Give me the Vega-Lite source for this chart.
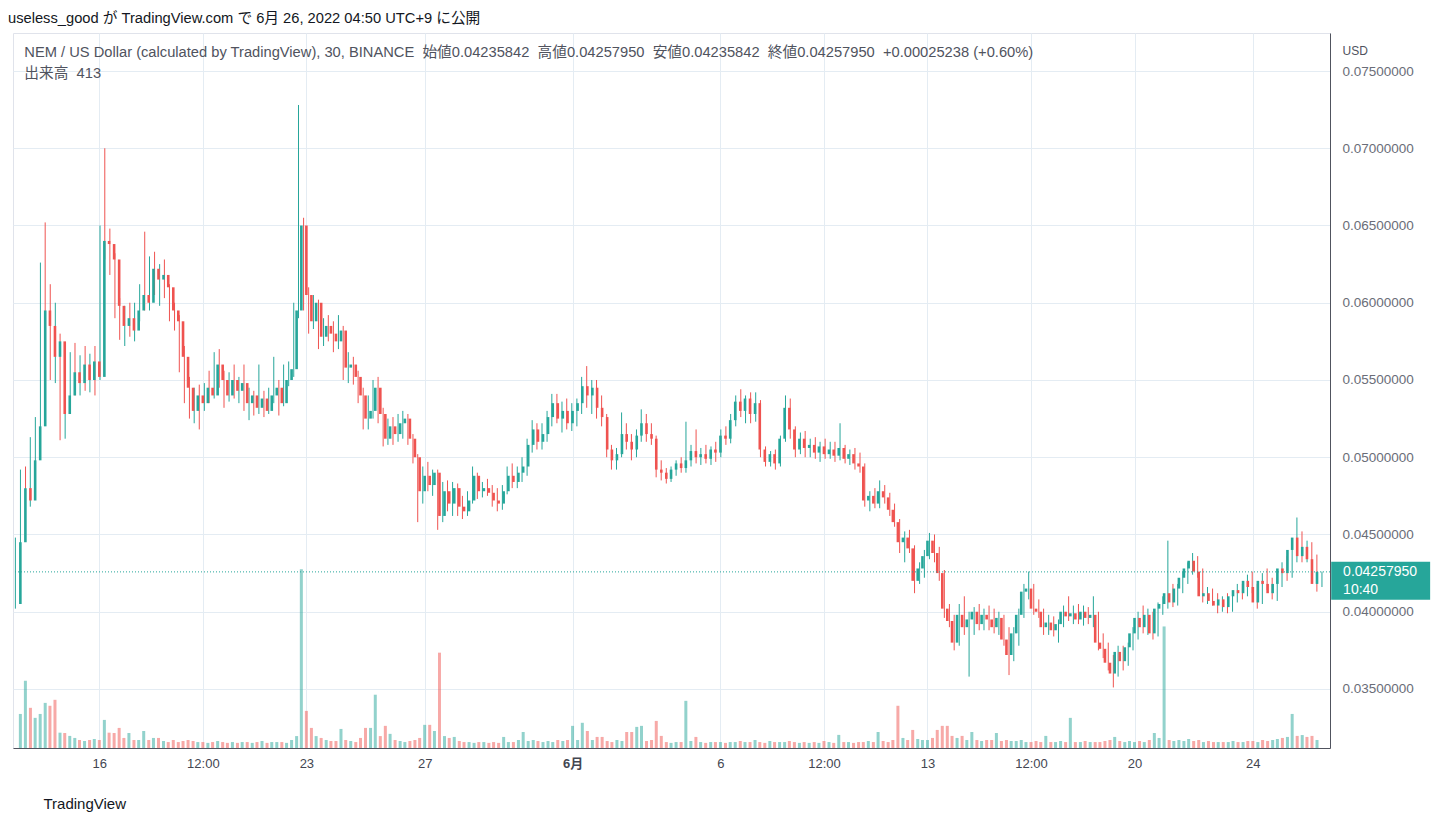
{
"$schema": "https://vega.github.io/schema/vega-lite/v6.json",
"width": 1317, "height": 715,
"autosize": {"type": "none"},
"padding": {"left": 13, "top": 33, "right": 115, "bottom": 78},
"background": "#ffffff",
"config": {
  "font": "Liberation Sans, Noto Sans CJK JP, sans-serif",
  "view": {"stroke": "#e0e3eb", "strokeWidth": 1},
  "axis": {"gridColor": "#e4ecf3", "gridWidth": 1, "ticks": false, "domainColor": "#50535e", "domainWidth": 1, "labelFont": "Liberation Sans", "titleFont": "Liberation Sans"}
},
"title": {
  "text": "useless_good が TradingView.com で 6月 26, 2022 04:50 UTC+9 に公開",
  "subtitle": ["\u200b\u00a0\u00a0\u00a0\u00a0NEM / US Dollar (calculated by TradingView), 30, BINANCE\u00a0\u00a0始値0.04235842\u00a0\u00a0高値0.04257950\u00a0\u00a0安値0.04235842\u00a0\u00a0終値0.04257950\u00a0\u00a0+0.00025238 (+0.60%)", "\u200b\u00a0\u00a0\u00a0\u00a0出来高\u00a0\u00a0413"],
  "anchor": "start", "frame": "group", "orient": "top", "dx": -5, "offset": -48,
  "font": "Liberation Sans, Noto Sans CJK JP, sans-serif",
  "fontSize": 14.7, "fontWeight": "normal", "color": "#131722",
  "subtitleFont": "Liberation Sans, Noto Sans CJK JP, sans-serif",
  "subtitleFontSize": 14.7, "subtitleColor": "#50535e", "subtitlePadding": 20, "subtitleLineHeight": 21
},
"datasets": {"k": [
{"t":13.33,"o":0.0405,"h":0.0448,"l":0.0402,"c":0.0445,"v":2000},
{"t":13.5,"o":0.0445,"h":0.0492,"l":0.0440,"c":0.0480,"v":3950},
{"t":13.67,"o":0.0480,"h":0.0494,"l":0.0466,"c":0.0472,"v":2360},
{"t":13.83,"o":0.0472,"h":0.0513,"l":0.0468,"c":0.0498,"v":1770},
{"t":14,"o":0.0498,"h":0.0526,"l":0.0490,"c":0.0520,"v":2000},
{"t":14.17,"o":0.0520,"h":0.0626,"l":0.0515,"c":0.0595,"v":2650},
{"t":14.33,"o":0.0595,"h":0.0652,"l":0.0560,"c":0.0585,"v":2480},
{"t":14.5,"o":0.0585,"h":0.0612,"l":0.0550,"c":0.0565,"v":2830},
{"t":14.67,"o":0.0565,"h":0.0600,"l":0.0548,"c":0.0575,"v":900},
{"t":14.83,"o":0.0575,"h":0.0580,"l":0.0511,"c":0.0528,"v":880},
{"t":15,"o":0.0528,"h":0.0545,"l":0.0512,"c":0.0540,"v":710},
{"t":15.17,"o":0.0540,"h":0.0568,"l":0.0530,"c":0.0555,"v":590},
{"t":15.33,"o":0.0555,"h":0.0574,"l":0.0540,"c":0.0548,"v":470},
{"t":15.5,"o":0.0548,"h":0.0566,"l":0.0540,"c":0.0560,"v":410},
{"t":15.67,"o":0.0560,"h":0.0572,"l":0.0543,"c":0.0550,"v":470},
{"t":15.83,"o":0.0550,"h":0.0567,"l":0.0542,"c":0.0562,"v":530},
{"t":16,"o":0.0562,"h":0.0572,"l":0.0540,"c":0.0552,"v":470},
{"t":16.17,"o":0.0552,"h":0.0650,"l":0.0550,"c":0.0640,"v":1650},
{"t":16.33,"o":0.0640,"h":0.0700,"l":0.0628,"c":0.0638,"v":900},
{"t":16.5,"o":0.0638,"h":0.0648,"l":0.0618,"c":0.0628,"v":880},
{"t":16.67,"o":0.0628,"h":0.0632,"l":0.0590,"c":0.0598,"v":1180},
{"t":16.83,"o":0.0598,"h":0.0603,"l":0.0576,"c":0.0585,"v":590},
{"t":17,"o":0.0585,"h":0.0598,"l":0.0572,"c":0.0590,"v":880},
{"t":17.17,"o":0.0590,"h":0.0600,"l":0.0578,"c":0.0582,"v":470},
{"t":17.33,"o":0.0582,"h":0.0600,"l":0.0575,"c":0.0595,"v":470},
{"t":17.5,"o":0.0595,"h":0.0612,"l":0.0588,"c":0.0605,"v":1000},
{"t":17.67,"o":0.0605,"h":0.0646,"l":0.0595,"c":0.0600,"v":470},
{"t":17.83,"o":0.0600,"h":0.0630,"l":0.0595,"c":0.0622,"v":590},
{"t":18,"o":0.0622,"h":0.0633,"l":0.0605,"c":0.0615,"v":590},
{"t":18.17,"o":0.0615,"h":0.0625,"l":0.0598,"c":0.0618,"v":410},
{"t":18.33,"o":0.0618,"h":0.0628,"l":0.0603,"c":0.0610,"v":350},
{"t":18.5,"o":0.0610,"h":0.0612,"l":0.0588,"c":0.0595,"v":470},
{"t":18.67,"o":0.0595,"h":0.0600,"l":0.0582,"c":0.0588,"v":350},
{"t":18.83,"o":0.0588,"h":0.0592,"l":0.0555,"c":0.0565,"v":410},
{"t":19,"o":0.0565,"h":0.0572,"l":0.0535,"c":0.0545,"v":470},
{"t":19.17,"o":0.0545,"h":0.0552,"l":0.0525,"c":0.0530,"v":410},
{"t":19.33,"o":0.0530,"h":0.0545,"l":0.0522,"c":0.0540,"v":350},
{"t":19.5,"o":0.0540,"h":0.0547,"l":0.0518,"c":0.0535,"v":350},
{"t":19.67,"o":0.0535,"h":0.0548,"l":0.0530,"c":0.0545,"v":300},
{"t":19.83,"o":0.0545,"h":0.0556,"l":0.0535,"c":0.0540,"v":350},
{"t":20,"o":0.0540,"h":0.0568,"l":0.0538,"c":0.0560,"v":410},
{"t":20.17,"o":0.0560,"h":0.0570,"l":0.0545,"c":0.0550,"v":350},
{"t":20.33,"o":0.0550,"h":0.0556,"l":0.0532,"c":0.0540,"v":300},
{"t":20.5,"o":0.0540,"h":0.0555,"l":0.0536,"c":0.0550,"v":350},
{"t":20.67,"o":0.0550,"h":0.0560,"l":0.0538,"c":0.0543,"v":300},
{"t":20.83,"o":0.0543,"h":0.0552,"l":0.0535,"c":0.0548,"v":350},
{"t":21,"o":0.0548,"h":0.0560,"l":0.0530,"c":0.0535,"v":350},
{"t":21.17,"o":0.0535,"h":0.0545,"l":0.0524,"c":0.0540,"v":300},
{"t":21.33,"o":0.0540,"h":0.0543,"l":0.0527,"c":0.0532,"v":350},
{"t":21.5,"o":0.0532,"h":0.0560,"l":0.0528,"c":0.0538,"v":410},
{"t":21.67,"o":0.0538,"h":0.0543,"l":0.0526,"c":0.0530,"v":300},
{"t":21.83,"o":0.0530,"h":0.0545,"l":0.0528,"c":0.0540,"v":350},
{"t":22,"o":0.0540,"h":0.0565,"l":0.0535,"c":0.0545,"v":350},
{"t":22.17,"o":0.0545,"h":0.0550,"l":0.0527,"c":0.0535,"v":350},
{"t":22.33,"o":0.0535,"h":0.0560,"l":0.0533,"c":0.0550,"v":300},
{"t":22.5,"o":0.0550,"h":0.0562,"l":0.0546,"c":0.0557,"v":470},
{"t":22.67,"o":0.0557,"h":0.0600,"l":0.0552,"c":0.0595,"v":700},
{"t":22.83,"o":0.0595,"h":0.0728,"l":0.0590,"c":0.0650,"v":10500},
{"t":23,"o":0.0650,"h":0.0655,"l":0.0595,"c":0.0605,"v":2180},
{"t":23.17,"o":0.0605,"h":0.0610,"l":0.0580,"c":0.0588,"v":1180},
{"t":23.33,"o":0.0588,"h":0.0605,"l":0.0583,"c":0.0600,"v":700},
{"t":23.5,"o":0.0600,"h":0.0602,"l":0.0570,"c":0.0578,"v":590},
{"t":23.67,"o":0.0578,"h":0.0590,"l":0.0572,"c":0.0585,"v":470},
{"t":23.83,"o":0.0585,"h":0.0592,"l":0.0575,"c":0.0580,"v":410},
{"t":24,"o":0.0580,"h":0.0588,"l":0.0568,"c":0.0575,"v":410},
{"t":24.17,"o":0.0575,"h":0.0592,"l":0.0570,"c":0.0582,"v":1120},
{"t":24.33,"o":0.0582,"h":0.0585,"l":0.0550,"c":0.0558,"v":470},
{"t":24.5,"o":0.0558,"h":0.0568,"l":0.0548,"c":0.0560,"v":410},
{"t":24.67,"o":0.0560,"h":0.0565,"l":0.0547,"c":0.0552,"v":350},
{"t":24.83,"o":0.0552,"h":0.0556,"l":0.0535,"c":0.0540,"v":590},
{"t":25,"o":0.0540,"h":0.0545,"l":0.0518,"c":0.0525,"v":1180},
{"t":25.17,"o":0.0525,"h":0.0540,"l":0.0518,"c":0.0530,"v":1180},
{"t":25.33,"o":0.0530,"h":0.0550,"l":0.0525,"c":0.0545,"v":3130},
{"t":25.5,"o":0.0545,"h":0.0552,"l":0.0522,"c":0.0528,"v":700},
{"t":25.67,"o":0.0528,"h":0.0532,"l":0.0507,"c":0.0512,"v":1300},
{"t":25.83,"o":0.0512,"h":0.0525,"l":0.0508,"c":0.0520,"v":830},
{"t":26,"o":0.0520,"h":0.0526,"l":0.0508,"c":0.0515,"v":470},
{"t":26.17,"o":0.0515,"h":0.0528,"l":0.0510,"c":0.0522,"v":410},
{"t":26.33,"o":0.0522,"h":0.0530,"l":0.0512,"c":0.0525,"v":350},
{"t":26.5,"o":0.0525,"h":0.0528,"l":0.0508,"c":0.0512,"v":410},
{"t":26.67,"o":0.0512,"h":0.0515,"l":0.0496,"c":0.0500,"v":470},
{"t":26.83,"o":0.0500,"h":0.0502,"l":0.0458,"c":0.0478,"v":590},
{"t":27,"o":0.0478,"h":0.0494,"l":0.0470,"c":0.0488,"v":1360},
{"t":27.17,"o":0.0488,"h":0.0497,"l":0.0478,"c":0.0482,"v":1360},
{"t":27.33,"o":0.0482,"h":0.0492,"l":0.0475,"c":0.0490,"v":1000},
{"t":27.5,"o":0.0490,"h":0.0492,"l":0.0453,"c":0.0462,"v":5600},
{"t":27.67,"o":0.0462,"h":0.0484,"l":0.0458,"c":0.0478,"v":700},
{"t":27.83,"o":0.0478,"h":0.0485,"l":0.0465,"c":0.0470,"v":590},
{"t":28,"o":0.0470,"h":0.0484,"l":0.0462,"c":0.0480,"v":650},
{"t":28.17,"o":0.0480,"h":0.0483,"l":0.0462,"c":0.0468,"v":410},
{"t":28.33,"o":0.0468,"h":0.0475,"l":0.0460,"c":0.0465,"v":350},
{"t":28.5,"o":0.0465,"h":0.0478,"l":0.0462,"c":0.0472,"v":350},
{"t":28.67,"o":0.0472,"h":0.0494,"l":0.0470,"c":0.0488,"v":300},
{"t":28.83,"o":0.0488,"h":0.0490,"l":0.0473,"c":0.0478,"v":350},
{"t":29,"o":0.0478,"h":0.0484,"l":0.0474,"c":0.0480,"v":350},
{"t":29.17,"o":0.0480,"h":0.0486,"l":0.0475,"c":0.0477,"v":300},
{"t":29.33,"o":0.0477,"h":0.0482,"l":0.0468,"c":0.0472,"v":350},
{"t":29.5,"o":0.0472,"h":0.0480,"l":0.0465,"c":0.0470,"v":300},
{"t":29.67,"o":0.0470,"h":0.0482,"l":0.0466,"c":0.0478,"v":650},
{"t":29.83,"o":0.0478,"h":0.0494,"l":0.0476,"c":0.0488,"v":350},
{"t":30,"o":0.0488,"h":0.0496,"l":0.0480,"c":0.0484,"v":350},
{"t":30.17,"o":0.0484,"h":0.0494,"l":0.0480,"c":0.0490,"v":470},
{"t":30.33,"o":0.0490,"h":0.0500,"l":0.0484,"c":0.0494,"v":940},
{"t":30.5,"o":0.0494,"h":0.0512,"l":0.0488,"c":0.0508,"v":410},
{"t":30.67,"o":0.0508,"h":0.0524,"l":0.0503,"c":0.0518,"v":470},
{"t":30.83,"o":0.0518,"h":0.0522,"l":0.0505,"c":0.0510,"v":410},
{"t":31,"o":0.0510,"h":0.0522,"l":0.0505,"c":0.0515,"v":350},
{"t":31.17,"o":0.0515,"h":0.0530,"l":0.0510,"c":0.0526,"v":410},
{"t":31.33,"o":0.0526,"h":0.0541,"l":0.0520,"c":0.0535,"v":350},
{"t":31.5,"o":0.0535,"h":0.0541,"l":0.0522,"c":0.0525,"v":470},
{"t":31.67,"o":0.0525,"h":0.0536,"l":0.0516,"c":0.0530,"v":410},
{"t":31.83,"o":0.0530,"h":0.0538,"l":0.0518,"c":0.0522,"v":470},
{"t":32,"o":0.0522,"h":0.0535,"l":0.0517,"c":0.0530,"v":1300},
{"t":32.17,"o":0.0530,"h":0.0538,"l":0.0520,"c":0.0535,"v":470},
{"t":32.33,"o":0.0535,"h":0.0552,"l":0.0528,"c":0.0546,"v":1480},
{"t":32.5,"o":0.0546,"h":0.0559,"l":0.0532,"c":0.0540,"v":1000},
{"t":32.67,"o":0.0540,"h":0.0550,"l":0.0528,"c":0.0545,"v":470},
{"t":32.83,"o":0.0545,"h":0.0550,"l":0.0525,"c":0.0532,"v":650},
{"t":33,"o":0.0532,"h":0.0540,"l":0.0520,"c":0.0526,"v":650},
{"t":33.17,"o":0.0526,"h":0.0528,"l":0.0500,"c":0.0505,"v":410},
{"t":33.33,"o":0.0505,"h":0.0508,"l":0.0492,"c":0.0498,"v":350},
{"t":33.5,"o":0.0498,"h":0.0506,"l":0.0492,"c":0.0502,"v":470},
{"t":33.67,"o":0.0502,"h":0.0529,"l":0.0500,"c":0.0515,"v":410},
{"t":33.83,"o":0.0515,"h":0.0522,"l":0.0505,"c":0.0510,"v":940},
{"t":34,"o":0.0510,"h":0.0515,"l":0.0498,"c":0.0505,"v":940},
{"t":34.17,"o":0.0505,"h":0.0518,"l":0.0500,"c":0.0514,"v":1240},
{"t":34.33,"o":0.0514,"h":0.0531,"l":0.0510,"c":0.0522,"v":1300},
{"t":34.5,"o":0.0522,"h":0.0528,"l":0.0510,"c":0.0515,"v":410},
{"t":34.67,"o":0.0515,"h":0.0522,"l":0.0508,"c":0.0512,"v":470},
{"t":34.83,"o":0.0512,"h":0.0514,"l":0.0487,"c":0.0492,"v":1590},
{"t":35,"o":0.0492,"h":0.0498,"l":0.0485,"c":0.0490,"v":710},
{"t":35.17,"o":0.0490,"h":0.0493,"l":0.0483,"c":0.0486,"v":350},
{"t":35.33,"o":0.0486,"h":0.0494,"l":0.0484,"c":0.0492,"v":300},
{"t":35.5,"o":0.0492,"h":0.0498,"l":0.0488,"c":0.0496,"v":350},
{"t":35.67,"o":0.0496,"h":0.0500,"l":0.0490,"c":0.0493,"v":350},
{"t":35.83,"o":0.0493,"h":0.0523,"l":0.0490,"c":0.0498,"v":2770},
{"t":36,"o":0.0498,"h":0.0508,"l":0.0494,"c":0.0504,"v":410},
{"t":36.17,"o":0.0504,"h":0.0518,"l":0.0496,"c":0.0500,"v":650},
{"t":36.33,"o":0.0500,"h":0.0506,"l":0.0495,"c":0.0502,"v":350},
{"t":36.5,"o":0.0502,"h":0.0508,"l":0.0496,"c":0.0499,"v":300},
{"t":36.67,"o":0.0499,"h":0.0507,"l":0.0495,"c":0.0505,"v":350},
{"t":36.83,"o":0.0505,"h":0.0510,"l":0.0497,"c":0.0503,"v":350},
{"t":37,"o":0.0503,"h":0.0518,"l":0.0500,"c":0.0514,"v":350},
{"t":37.17,"o":0.0514,"h":0.0520,"l":0.0508,"c":0.0512,"v":300},
{"t":37.33,"o":0.0512,"h":0.0528,"l":0.0509,"c":0.0524,"v":350},
{"t":37.5,"o":0.0524,"h":0.0540,"l":0.0520,"c":0.0536,"v":350},
{"t":37.67,"o":0.0536,"h":0.0544,"l":0.0526,"c":0.0530,"v":410},
{"t":37.83,"o":0.0530,"h":0.0540,"l":0.0522,"c":0.0538,"v":350},
{"t":38,"o":0.0538,"h":0.0542,"l":0.0522,"c":0.0528,"v":350},
{"t":38.17,"o":0.0528,"h":0.0542,"l":0.0523,"c":0.0535,"v":470},
{"t":38.33,"o":0.0535,"h":0.0537,"l":0.0500,"c":0.0505,"v":350},
{"t":38.5,"o":0.0505,"h":0.0507,"l":0.0494,"c":0.0497,"v":300},
{"t":38.67,"o":0.0497,"h":0.0504,"l":0.0494,"c":0.0502,"v":410},
{"t":38.83,"o":0.0502,"h":0.0505,"l":0.0492,"c":0.0496,"v":350},
{"t":39,"o":0.0496,"h":0.0514,"l":0.0494,"c":0.0512,"v":350},
{"t":39.17,"o":0.0512,"h":0.0540,"l":0.0510,"c":0.0532,"v":350},
{"t":39.33,"o":0.0532,"h":0.0538,"l":0.0512,"c":0.0518,"v":410},
{"t":39.5,"o":0.0518,"h":0.0520,"l":0.0500,"c":0.0505,"v":350},
{"t":39.67,"o":0.0505,"h":0.0516,"l":0.0502,"c":0.0512,"v":300},
{"t":39.83,"o":0.0512,"h":0.0517,"l":0.0500,"c":0.0506,"v":350},
{"t":40,"o":0.0506,"h":0.0512,"l":0.0500,"c":0.0508,"v":300},
{"t":40.17,"o":0.0508,"h":0.0513,"l":0.0499,"c":0.0503,"v":350},
{"t":40.33,"o":0.0503,"h":0.0510,"l":0.0497,"c":0.0507,"v":300},
{"t":40.5,"o":0.0507,"h":0.0512,"l":0.0499,"c":0.0502,"v":410},
{"t":40.67,"o":0.0502,"h":0.0510,"l":0.0499,"c":0.0505,"v":350},
{"t":40.83,"o":0.0505,"h":0.0510,"l":0.0497,"c":0.0501,"v":300},
{"t":41,"o":0.0501,"h":0.0522,"l":0.0498,"c":0.0506,"v":770},
{"t":41.17,"o":0.0506,"h":0.0508,"l":0.0496,"c":0.0499,"v":350},
{"t":41.33,"o":0.0499,"h":0.0505,"l":0.0495,"c":0.0502,"v":350},
{"t":41.5,"o":0.0502,"h":0.0506,"l":0.0492,"c":0.0496,"v":300},
{"t":41.67,"o":0.0496,"h":0.0503,"l":0.0490,"c":0.0494,"v":350},
{"t":41.83,"o":0.0494,"h":0.0496,"l":0.0468,"c":0.0472,"v":350},
{"t":42,"o":0.0472,"h":0.0478,"l":0.0465,"c":0.0475,"v":410},
{"t":42.17,"o":0.0475,"h":0.0480,"l":0.0467,"c":0.0470,"v":350},
{"t":42.33,"o":0.0470,"h":0.0485,"l":0.0467,"c":0.0478,"v":940},
{"t":42.5,"o":0.0478,"h":0.0482,"l":0.0470,"c":0.0474,"v":410},
{"t":42.67,"o":0.0474,"h":0.0477,"l":0.0462,"c":0.0466,"v":350},
{"t":42.83,"o":0.0466,"h":0.0470,"l":0.0455,"c":0.0458,"v":470},
{"t":43,"o":0.0458,"h":0.0460,"l":0.0438,"c":0.0445,"v":2480},
{"t":43.17,"o":0.0445,"h":0.0452,"l":0.0432,"c":0.0448,"v":590},
{"t":43.33,"o":0.0448,"h":0.0453,"l":0.0438,"c":0.0441,"v":470},
{"t":43.5,"o":0.0441,"h":0.0443,"l":0.0412,"c":0.0420,"v":1060},
{"t":43.67,"o":0.0420,"h":0.0432,"l":0.0418,"c":0.0428,"v":530},
{"t":43.83,"o":0.0428,"h":0.0440,"l":0.0422,"c":0.0436,"v":470},
{"t":44,"o":0.0436,"h":0.0451,"l":0.0434,"c":0.0446,"v":470},
{"t":44.17,"o":0.0446,"h":0.0450,"l":0.0432,"c":0.0438,"v":590},
{"t":44.33,"o":0.0438,"h":0.0442,"l":0.0420,"c":0.0425,"v":1060},
{"t":44.5,"o":0.0425,"h":0.0427,"l":0.0396,"c":0.0402,"v":1300},
{"t":44.67,"o":0.0402,"h":0.0405,"l":0.0390,"c":0.0394,"v":1300},
{"t":44.83,"o":0.0394,"h":0.0398,"l":0.0375,"c":0.0380,"v":710},
{"t":45,"o":0.0380,"h":0.0405,"l":0.0378,"c":0.0398,"v":590},
{"t":45.17,"o":0.0398,"h":0.0410,"l":0.0385,"c":0.0390,"v":710},
{"t":45.33,"o":0.0390,"h":0.0400,"l":0.0358,"c":0.0395,"v":470},
{"t":45.5,"o":0.0395,"h":0.0403,"l":0.0385,"c":0.0400,"v":940},
{"t":45.67,"o":0.0400,"h":0.0405,"l":0.0388,"c":0.0392,"v":470},
{"t":45.83,"o":0.0392,"h":0.0402,"l":0.0388,"c":0.0398,"v":410},
{"t":46,"o":0.0398,"h":0.0404,"l":0.0388,"c":0.0395,"v":470},
{"t":46.17,"o":0.0395,"h":0.0402,"l":0.0386,"c":0.0390,"v":470},
{"t":46.33,"o":0.0390,"h":0.0400,"l":0.0385,"c":0.0396,"v":880},
{"t":46.5,"o":0.0396,"h":0.0398,"l":0.0378,"c":0.0382,"v":410},
{"t":46.67,"o":0.0382,"h":0.0390,"l":0.0359,"c":0.0372,"v":470},
{"t":46.83,"o":0.0372,"h":0.0390,"l":0.0368,"c":0.0386,"v":410},
{"t":47,"o":0.0386,"h":0.0402,"l":0.0378,"c":0.0398,"v":410},
{"t":47.17,"o":0.0398,"h":0.0418,"l":0.0396,"c":0.0413,"v":470},
{"t":47.33,"o":0.0413,"h":0.0426,"l":0.0408,"c":0.0415,"v":350},
{"t":47.5,"o":0.0415,"h":0.0418,"l":0.0398,"c":0.0402,"v":350},
{"t":47.67,"o":0.0402,"h":0.0408,"l":0.0396,"c":0.0400,"v":410},
{"t":47.83,"o":0.0400,"h":0.0402,"l":0.0385,"c":0.0390,"v":350},
{"t":48,"o":0.0390,"h":0.0398,"l":0.0385,"c":0.0393,"v":710},
{"t":48.17,"o":0.0393,"h":0.0397,"l":0.0384,"c":0.0388,"v":350},
{"t":48.33,"o":0.0388,"h":0.0395,"l":0.0380,"c":0.0392,"v":350},
{"t":48.5,"o":0.0392,"h":0.0404,"l":0.0390,"c":0.0400,"v":410},
{"t":48.67,"o":0.0400,"h":0.0410,"l":0.0394,"c":0.0397,"v":350},
{"t":48.83,"o":0.0397,"h":0.0404,"l":0.0392,"c":0.0399,"v":1770},
{"t":49,"o":0.0399,"h":0.0405,"l":0.0392,"c":0.0395,"v":350},
{"t":49.17,"o":0.0395,"h":0.0404,"l":0.0391,"c":0.0400,"v":350},
{"t":49.33,"o":0.0400,"h":0.0403,"l":0.0392,"c":0.0396,"v":410},
{"t":49.5,"o":0.0396,"h":0.0410,"l":0.0390,"c":0.0398,"v":350},
{"t":49.67,"o":0.0398,"h":0.0400,"l":0.0375,"c":0.0380,"v":350},
{"t":49.83,"o":0.0380,"h":0.0386,"l":0.0370,"c":0.0376,"v":350},
{"t":50,"o":0.0376,"h":0.0380,"l":0.0362,"c":0.0367,"v":410},
{"t":50.17,"o":0.0367,"h":0.0372,"l":0.0351,"c":0.0360,"v":470},
{"t":50.33,"o":0.0360,"h":0.0378,"l":0.0358,"c":0.0374,"v":650},
{"t":50.5,"o":0.0374,"h":0.0378,"l":0.0362,"c":0.0368,"v":410},
{"t":50.67,"o":0.0368,"h":0.0380,"l":0.0365,"c":0.0377,"v":350},
{"t":50.83,"o":0.0377,"h":0.0390,"l":0.0375,"c":0.0386,"v":410},
{"t":51,"o":0.0386,"h":0.0400,"l":0.0382,"c":0.0396,"v":350},
{"t":51.17,"o":0.0396,"h":0.0404,"l":0.0386,"c":0.0390,"v":410},
{"t":51.33,"o":0.0390,"h":0.0402,"l":0.0385,"c":0.0398,"v":350},
{"t":51.5,"o":0.0398,"h":0.0400,"l":0.0382,"c":0.0386,"v":470},
{"t":51.67,"o":0.0386,"h":0.0406,"l":0.0384,"c":0.0402,"v":880},
{"t":51.83,"o":0.0402,"h":0.0410,"l":0.0398,"c":0.0405,"v":590},
{"t":52,"o":0.0405,"h":0.0446,"l":0.0402,"c":0.0412,"v":7140},
{"t":52.17,"o":0.0412,"h":0.0418,"l":0.0403,"c":0.0406,"v":470},
{"t":52.33,"o":0.0406,"h":0.0418,"l":0.0404,"c":0.0415,"v":410},
{"t":52.5,"o":0.0415,"h":0.0426,"l":0.0412,"c":0.0422,"v":470},
{"t":52.67,"o":0.0422,"h":0.0432,"l":0.0418,"c":0.0428,"v":410},
{"t":52.83,"o":0.0428,"h":0.0438,"l":0.0424,"c":0.0433,"v":530},
{"t":53,"o":0.0433,"h":0.0436,"l":0.0422,"c":0.0426,"v":410},
{"t":53.17,"o":0.0426,"h":0.0428,"l":0.0406,"c":0.0410,"v":470},
{"t":53.33,"o":0.0410,"h":0.0416,"l":0.0405,"c":0.0412,"v":350},
{"t":53.5,"o":0.0412,"h":0.0415,"l":0.0404,"c":0.0407,"v":410},
{"t":53.67,"o":0.0407,"h":0.0412,"l":0.0399,"c":0.0404,"v":350},
{"t":53.83,"o":0.0404,"h":0.0410,"l":0.0400,"c":0.0408,"v":350},
{"t":54,"o":0.0408,"h":0.0412,"l":0.0399,"c":0.0403,"v":350},
{"t":54.17,"o":0.0403,"h":0.0412,"l":0.0400,"c":0.0410,"v":350},
{"t":54.33,"o":0.0410,"h":0.0418,"l":0.0406,"c":0.0414,"v":410},
{"t":54.5,"o":0.0414,"h":0.0418,"l":0.0408,"c":0.0412,"v":350},
{"t":54.67,"o":0.0412,"h":0.0424,"l":0.0410,"c":0.0420,"v":350},
{"t":54.83,"o":0.0420,"h":0.0426,"l":0.0412,"c":0.0416,"v":410},
{"t":55,"o":0.0416,"h":0.0418,"l":0.0402,"c":0.0406,"v":410},
{"t":55.17,"o":0.0406,"h":0.0425,"l":0.0405,"c":0.0420,"v":350},
{"t":55.33,"o":0.0420,"h":0.0428,"l":0.0414,"c":0.0418,"v":470},
{"t":55.5,"o":0.0418,"h":0.0422,"l":0.0408,"c":0.0412,"v":410},
{"t":55.67,"o":0.0412,"h":0.0422,"l":0.0407,"c":0.0418,"v":470},
{"t":55.83,"o":0.0418,"h":0.0432,"l":0.0416,"c":0.0428,"v":530},
{"t":56,"o":0.0428,"h":0.0436,"l":0.0420,"c":0.0425,"v":590},
{"t":56.17,"o":0.0425,"h":0.0445,"l":0.0422,"c":0.0440,"v":650},
{"t":56.33,"o":0.0440,"h":0.0461,"l":0.0432,"c":0.0448,"v":2000},
{"t":56.5,"o":0.0448,"h":0.0452,"l":0.0432,"c":0.0436,"v":710},
{"t":56.67,"o":0.0436,"h":0.0446,"l":0.0432,"c":0.0442,"v":760},
{"t":56.83,"o":0.0442,"h":0.0445,"l":0.0430,"c":0.0434,"v":650},
{"t":57,"o":0.0434,"h":0.0437,"l":0.0413,"c":0.0418,"v":710},
{"t":57.17,"o":0.0418,"h":0.0426,"l":0.0416,"c":0.0425795,"v":470}
]},
"layer": [
  {
    "data": {"name": "k"},
    "mark": {"type": "bar", "size": 3, "opacity": 0.5},
    "encoding": {
      "x": {"field": "t", "type": "quantitative", "scale": {"domain": [13.25, 57.44], "nice": false, "zero": false},
        "axis": {
          "values": [16, 19.5, 23, 27, 32, 37, 40.5, 44, 47.5, 51, 55],
          "labelExpr": "datum.value == 19.5 || datum.value == 40.5 || datum.value == 47.5 ? '12:00' : (datum.value == 32 ? '6月' : (datum.value > 31 ? '' + (datum.value - 31) : '' + datum.value))",
          "labelFontWeight": {"condition": {"test": "datum.value == 32", "value": "bold"}, "value": "normal"},
          "labelFont": "Liberation Sans, Noto Sans CJK JP",
          "grid": true, "labelOverlap": false, "labelFlush": false, "labelBound": false,
          "labelColor": "#434651", "labelFontSize": 13, "labelPadding": 9,
          "title": "TradingView", "titleAnchor": "start", "titleAlign": "left", "titleBaseline": "middle",
          "titleX": 30, "titleY": 55, "titleFontSize": 15, "titleFontWeight": "normal", "titleColor": "#131722"
        }},
      "y": {"field": "v", "type": "quantitative", "scale": {"domain": [0, 42000], "nice": false}, "axis": null},
      "color": {"condition": {"test": "datum.c >= datum.o", "value": "#26a69a"}, "value": "#ef5350"}
    }
  },
  {
    "data": {"name": "k"},
    "mark": {"type": "rule", "strokeWidth": 1},
    "encoding": {
      "x": {"field": "t", "type": "quantitative", "scale": {"domain": [13.25, 57.44], "nice": false, "zero": false}, "axis": null},
      "y": {"field": "l", "type": "quantitative", "scale": {"domain": [0.03118, 0.07746], "nice": false, "zero": false},
        "axis": {
          "orient": "right", "values": [0.035, 0.04, 0.045, 0.05, 0.055, 0.06, 0.065, 0.07, 0.075],
          "format": ".8f", "grid": true, "labelColor": "#6a6d78", "labelFontSize": 13.5, "labelPadding": 12,
          "title": "USD", "titleAngle": 0, "titleX": 12, "titleY": 17, "titleAlign": "left", "titleBaseline": "middle",
          "titleFontSize": 12, "titleFontWeight": "normal", "titleColor": "#50535e"
        }},
      "y2": {"field": "h"},
      "color": {"condition": {"test": "datum.c >= datum.o", "value": "#26a69a"}, "value": "#ef5350"}
    }
  },
  {
    "data": {"name": "k"},
    "mark": {"type": "bar", "size": 2.6},
    "encoding": {
      "x": {"field": "t", "type": "quantitative", "scale": {"domain": [13.25, 57.44], "nice": false, "zero": false}, "axis": null},
      "y": {"field": "o", "type": "quantitative", "scale": {"domain": [0.03118, 0.07746], "nice": false, "zero": false}, "axis": null},
      "y2": {"field": "c"},
      "color": {"condition": {"test": "datum.c >= datum.o", "value": "#26a69a"}, "value": "#ef5350"}
    }
  },
  {
    "data": {"values": [{}]},
    "mark": {"type": "rule", "color": "#26a69a", "strokeDash": [1, 2], "strokeWidth": 1},
    "encoding": {
      "y": {"datum": 0.0425795, "type": "quantitative", "scale": {"domain": [0.03118, 0.07746], "nice": false, "zero": false}, "axis": null}
    }
  },
  {
    "data": {"values": [{}]},
    "mark": {"type": "rect", "color": "#26a69a"},
    "encoding": {
      "x": {"datum": 57.48, "type": "quantitative", "scale": {"domain": [13.25, 57.44], "nice": false, "zero": false}, "axis": null},
      "x2": {"datum": 60.8},
      "y": {"datum": 0.04324, "type": "quantitative", "scale": {"domain": [0.03118, 0.07746], "nice": false, "zero": false}, "axis": null},
      "y2": {"datum": 0.04078}
    }
  },
  {
    "data": {"values": [{}]},
    "mark": {"type": "text", "align": "left", "baseline": "middle", "color": "#ffffff", "fontSize": 14, "font": "Liberation Sans"},
    "encoding": {
      "x": {"datum": 57.88, "type": "quantitative", "scale": {"domain": [13.25, 57.44], "nice": false, "zero": false}, "axis": null},
      "y": {"datum": 0.0425795, "type": "quantitative", "scale": {"domain": [0.03118, 0.07746], "nice": false, "zero": false}, "axis": null},
      "text": {"value": "0.04257950"}
    }
  },
  {
    "data": {"values": [{}]},
    "mark": {"type": "text", "align": "left", "baseline": "middle", "color": "#ffffff", "fontSize": 14, "font": "Liberation Sans"},
    "encoding": {
      "x": {"datum": 57.88, "type": "quantitative", "scale": {"domain": [13.25, 57.44], "nice": false, "zero": false}, "axis": null},
      "y": {"datum": 0.04143, "type": "quantitative", "scale": {"domain": [0.03118, 0.07746], "nice": false, "zero": false}, "axis": null},
      "text": {"value": "10:40"}
    }
  }
],
"resolve": {"scale": {"x": "independent", "y": "independent"}, "axis": {"x": "independent", "y": "independent"}}
}
